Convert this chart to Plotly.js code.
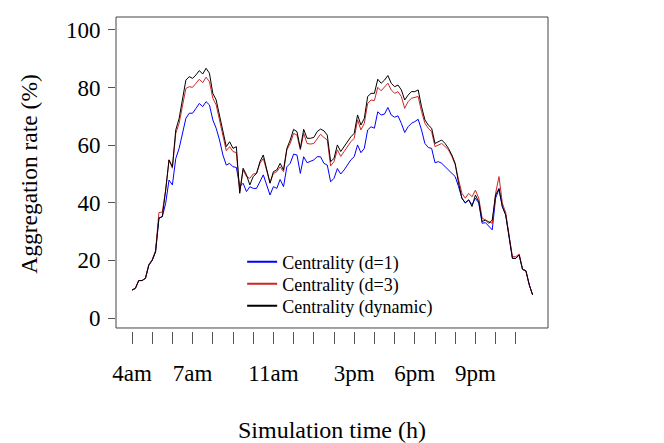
<!DOCTYPE html>
<html>
<head>
<meta charset="utf-8">
<script src="https://cdn.plot.ly/plotly-3.0.1.min.js"></script>
<style>
  html, body { margin: 0; padding: 0; background: #fff; }
  #plot { width: 664px; height: 443px; }
</style>
</head>
<body>
<div id="plot"></div>
<script>
// samples every 10 minutes from 4:00 to 23:50
var nSamples = 120;
var hours = [];
for (var i = 0; i < nSamples; i++) { hours.push(4 + i / 6); }

var centralityD1 = [9.7,10.3,13,13,13.8,18.4,20,23,34.7,35.2,
  39.8,47.9,46.2,55.4,58.9,64.1,69.3,71.1,71.1,72.8,
  74.5,73.4,75.1,74,68.8,65.9,61.8,56.6,53.1,53.7,
  52.5,52.3,45.6,46.8,43.9,45.6,45,45,47.3,49.7,
  46.2,42.7,45.6,45,48.1,45.6,52.5,53.7,56.9,56.6,
  50.2,56,53.9,54.3,54.9,56,56,53.7,53.1,47.3,
  48.5,51.9,50,51.4,53.1,54.9,56,60.1,57.4,58.9,
  65.3,66.4,65.9,71.6,70.5,70.8,73.1,70.5,69.7,70.2,
  67.6,64.4,66.4,67.6,68.2,69,65.3,60.6,59.2,58.9,
  53.9,54.3,53.7,52.5,51.6,50.2,49.1,45.6,41.6,39.9,
  41,39.3,41.6,39.9,32.9,33.1,31.7,30.6,41.6,44.7,
  38.7,35.8,28.2,20.7,20.7,21.9,16.9,16.4,11.5,8];

var centralityD3 = [9.7,10.3,13,13,13.8,18.6,20.3,23.5,36.6,36.8,
  44.4,54.9,52,64.1,67.6,73.4,79.7,80.3,80.1,81.5,
  82.9,81.7,83.6,82.1,76.3,74,68.8,62.9,58.1,59.5,
  57.8,57.4,44,51.4,49.1,48.5,50,50.2,53.7,55.4,
  51.4,47,50.2,50.8,52.5,50.8,58.4,60.6,64.1,63.5,
  58.4,64.1,60.6,60.4,60.6,62.4,63.8,62.7,61.8,52.8,
  54.3,58.4,56.1,57.8,59.5,61.2,62.4,68.8,65.3,67.6,
  74.5,75.7,75.5,80.1,78.9,80.1,81.5,79.2,78,78.6,
  76.9,72.8,75.1,76.3,76.5,76.9,71.7,67.6,65.9,64.7,
  59.5,60.1,60.6,59.5,58.4,56.1,53.2,48,43.3,41.6,
  43.3,42.1,44.4,41.6,34.7,34,33.5,32.9,43.3,49.1,
  39.9,36.6,28.7,21.3,21.3,22.2,16.9,16.4,11.5,8];

var centralityDyn = [9.7,10.3,13,13,13.8,18.4,20,23,34.7,35.2,
  44.4,54.9,52.5,65.3,69.3,75.7,82.6,83.8,83.2,84.4,
  85.9,84.7,86.7,85,78,75.7,69.9,64.1,59.5,61.2,
  58.9,59.5,43.3,52,49.7,46.2,49.1,50.2,54.3,56.6,
  51.4,46.8,50.8,51.4,53.7,51.4,58.9,61.8,65.5,64.7,
  58.9,65.5,62.4,62.4,62.7,64.7,65.6,65,63.5,54.3,
  55.4,60.1,57.8,59.5,61.2,62.9,64.1,70.5,67,69.3,
  76.9,78,78,82.9,81.5,82.6,84.2,81.5,80.3,80.9,
  79.2,75.7,77.4,78.6,78.6,79.2,73.4,68.8,67,65.9,
  60.6,61.2,61.8,60.6,58.9,56.6,53.7,46.8,41.6,40,
  41,38.7,42.7,40.4,33.5,34,32.9,34,42.7,45,
  38.7,35.8,28.2,20.7,20.7,21.9,16.9,16.4,11.5,8];

var seriesNames = ["Centrality (d=1)", "Centrality (d=3)", "Centrality (dynamic)"];
var seriesColors = ["#0000ff", "#cd2626", "#000000"];
var legendIds = ["legend", "legend2", "legend3"];

var tickHours = [4,5,6,7,8,9,10,11,12,13,14,15,16,17,18,19,20,21,22,23];
var tickNames = ["4am","","","7am","","","","11am","","","","3pm","","","6pm","","","9pm","",""];

var serif = "Liberation Serif, Times New Roman, serif";

var allSeries = [centralityD1, centralityD3, centralityDyn];
var traces = [];
allSeries.forEach(function(vals, k) {
  traces.push({x: hours, y: vals, type: "scatter", mode: "lines", name: seriesNames[k],
    showlegend: false, line: {color: seriesColors[k], width: 1}});
});
// legend-only entries with a heavier line sample, one legend per row
seriesNames.forEach(function(nm, k) {
  traces.push({x: [null], y: [null], type: "scatter", mode: "lines", name: nm,
    legend: legendIds[k], line: {color: seriesColors[k], width: 2}});
});

function legendBox(yc) {
  return {x: 0.292, y: yc, xanchor: "left", yanchor: "middle",
          bgcolor: "rgba(0,0,0,0)", font: {family: serif, size: 18}};
}

var layout = {
  width: 664, height: 443,
  margin: {l: 116, r: 116, t: 17, b: 112},
  paper_bgcolor: "#fff", plot_bgcolor: "#fff",
  font: {family: serif, size: 19, color: "#000"},
  showlegend: true,
  legend: legendBox(0.2197),
  legend2: legendBox(0.1497),
  legend3: legendBox(0.0796),
  xaxis: {
    range: [3.208, 24.594], showgrid: false, zeroline: false, showline: false,
    tickmode: "array", tickvals: tickHours, ticktext: tickNames,
    ticks: "outside", ticklen: 12, tickcolor: "#555", tickwidth: 1,
    tickfont: {family: serif, size: 23}, ticklabelstandoff: 9,
    title: {text: "Simulation time (h)", font: {family: serif, size: 24}, standoff: 38}
  },
  yaxis: {
    range: [-4.51, 104.51], showgrid: false, zeroline: false, showline: false,
    tickmode: "array", tickvals: [0,20,40,60,80,100],
    ticks: "outside", ticklen: 7, tickcolor: "#555", tickwidth: 1,
    tickfont: {family: serif, size: 23}, ticklabelstandoff: 3,
    title: {text: "Aggregation rate (%)", font: {family: serif, size: 23.5}, standoff: 21}
  },
  shapes: [
    {type: "rect", xref: "paper", yref: "paper", x0: 0, x1: 1, y0: 0.0096, y1: 1,
     line: {color: "#444", width: 1}, fillcolor: "rgba(0,0,0,0)"}
  ]
};

Plotly.newPlot("plot", traces, layout, {displayModeBar: false, staticPlot: true});
</script>
</body>
</html>
